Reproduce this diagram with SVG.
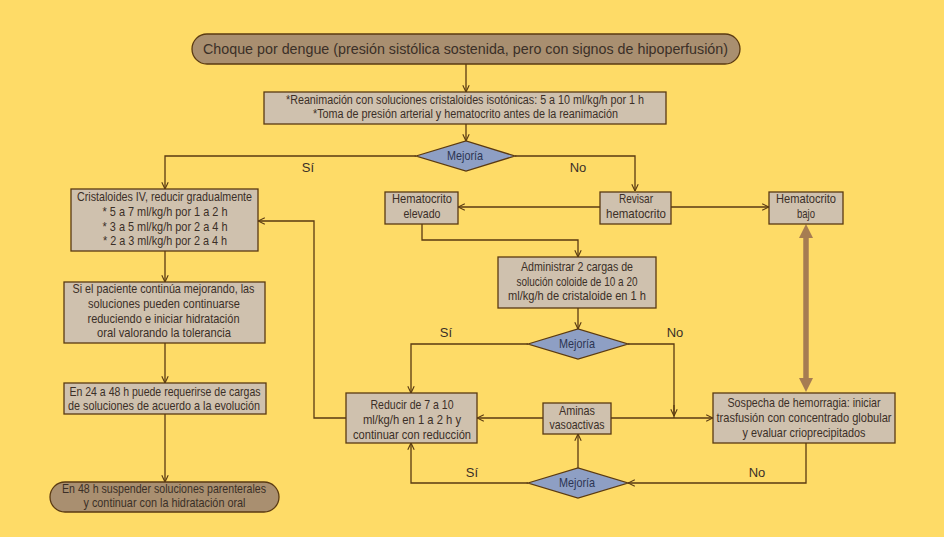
<svg xmlns="http://www.w3.org/2000/svg" width="944" height="537" viewBox="0 0 944 537">
<style>
text{font-family:"Liberation Sans",Arial,sans-serif;fill:#3b2f27;text-anchor:middle;font-size:13px}
.box{fill:#cfc1ae;stroke:#5a3a12;stroke-width:1.3}
.cap{fill:#a98f70;stroke:#5a3a12;stroke-width:1.3}
.dia{fill:#8e9fc4;stroke:#5a3a12;stroke-width:1.3}
.dt{fill:#2c3553}
.sm{font-size:12px}
.c{fill:none;stroke:#5a3a12;stroke-width:1.3}
.ca{fill:none;stroke:#5a3a12;stroke-width:1.3;marker-end:url(#ah)}
</style>
<defs>
<marker id="ah" viewBox="0 0 10 10" refX="9.5" refY="5" markerWidth="8" markerHeight="8" orient="auto" markerUnits="userSpaceOnUse">
<path d="M1,1 L9.5,5 L1,9" fill="none" stroke="#5a3a12" stroke-width="1.4"/>
</marker>
<marker id="th" viewBox="0 0 14 14" refX="2" refY="7" markerWidth="14" markerHeight="14" orient="auto-start-reverse" markerUnits="userSpaceOnUse">
<path d="M0,0 L14,7 L0,14 Z" fill="#a67c52"/>
</marker>
</defs>
<rect width="944" height="537" fill="#fedb67"/>

<g id="connectors">
<path class="ca" d="M466,64 V92"/>
<path class="ca" d="M466,124 V141"/>
<path class="ca" d="M416,156 H165 V189"/>
<path class="ca" d="M515,156 H635 V191"/>
<path class="ca" d="M165,251 V282"/>
<path class="ca" d="M165,343 V383"/>
<path class="ca" d="M165,413 V482"/>
<path class="ca" d="M346,418 H314 V221 H258"/>
<path class="ca" d="M600,207 H458"/>
<path class="ca" d="M671,207 H769"/>
<path class="ca" d="M422,224 V240 H578 V257"/>
<path class="ca" d="M578,308 V329"/>
<path class="ca" d="M528,344 H411 V393"/>
<path class="c" d="M628,344 H674 V418"/>
<path class="ca" d="M674,405 V416"/>
<path class="ca" d="M543,418 H477"/>
<path class="ca" d="M611,418 H713"/>
<path class="ca" d="M806,443 V483 H628"/>
<path class="ca" d="M578,468 V434"/>
<path class="ca" d="M528,483 H411 V443"/>
<path d="M806,236 V380" fill="none" stroke="#a67c52" stroke-width="5.5" marker-start="url(#th)" marker-end="url(#th)"/>
<text x="308" y="172">Sí</text>
<text x="578" y="172">No</text>
<text x="446" y="337">Sí</text>
<text x="675" y="337">No</text>
<text x="472" y="477">Sí</text>
<text x="757" y="477">No</text>
</g>

<g id="n_start">
<rect class="cap" x="192" y="34" width="548" height="30" rx="15"/>
<text x="465.5" y="54" style="font-size:15px" textLength="525" lengthAdjust="spacingAndGlyphs">Choque por dengue (presión sistólica sostenida, pero con signos de hipoperfusión)</text>
</g>
<g id="n_reanimacion">
<rect class="box" x="264" y="92" width="402" height="32"/>
<text class="sm" x="465" y="104" textLength="358" lengthAdjust="spacingAndGlyphs">*Reanimación con soluciones cristaloides isotónicas: 5 a 10 ml/kg/h por 1 h</text>
<text class="sm" x="465.5" y="118" textLength="305" lengthAdjust="spacingAndGlyphs">*Toma de presión arterial y hematocrito antes de la reanimación</text>
</g>
<g id="n_mejoria1">
<polygon class="dia" points="416,156 466,141 515,156 466,171"/>
<text class="dt" x="465" y="160" textLength="36" lengthAdjust="spacingAndGlyphs">Mejoría</text>
</g>
<g id="n_cristaloides">
<rect class="box" x="71" y="189" width="187" height="62"/>
<text x="164.5" y="201" textLength="175" lengthAdjust="spacingAndGlyphs">Cristaloides IV, reducir gradualmente</text>
<text x="165" y="216" textLength="125" lengthAdjust="spacingAndGlyphs">* 5 a 7 ml/kg/h por 1 a 2 h</text>
<text x="165" y="231" textLength="125" lengthAdjust="spacingAndGlyphs">* 3 a 5 ml/kg/h por 2 a 4 h</text>
<text x="165" y="245" textLength="124" lengthAdjust="spacingAndGlyphs">* 2 a 3 ml/kg/h por 2 a 4 h</text>
</g>
<g id="n_continua">
<rect class="box" x="64" y="282" width="201" height="61"/>
<text x="163.5" y="293" textLength="182" lengthAdjust="spacingAndGlyphs">Si el paciente continúa mejorando, las</text>
<text x="164" y="308" textLength="152" lengthAdjust="spacingAndGlyphs">soluciones pueden continuarse</text>
<text x="163.5" y="323" textLength="152" lengthAdjust="spacingAndGlyphs">reduciendo e iniciar hidratación</text>
<text x="164" y="337" textLength="134" lengthAdjust="spacingAndGlyphs">oral valorando la tolerancia</text>
</g>
<g id="n_24a48">
<rect class="box" x="64" y="383" width="202" height="31"/>
<text x="165" y="396" textLength="191" lengthAdjust="spacingAndGlyphs">En 24 a 48 h puede requerirse de cargas</text>
<text x="164" y="410" textLength="192" lengthAdjust="spacingAndGlyphs">de soluciones de acuerdo a la evolución</text>
</g>
<g id="n_fin">
<rect class="cap" x="50" y="482" width="229" height="30" rx="15"/>
<text x="164" y="493" textLength="204" lengthAdjust="spacingAndGlyphs">En 48 h suspender soluciones parenterales</text>
<text x="164.5" y="507" textLength="162" lengthAdjust="spacingAndGlyphs">y continuar con la hidratación oral</text>
</g>
<g id="n_hto_elevado">
<rect class="box" x="385" y="192" width="73" height="32"/>
<text x="422" y="203" textLength="60" lengthAdjust="spacingAndGlyphs">Hematocrito</text>
<text x="422" y="218" textLength="37" lengthAdjust="spacingAndGlyphs">elevado</text>
</g>
<g id="n_revisar">
<rect class="box" x="600" y="192" width="71" height="32"/>
<text x="636" y="203" textLength="34" lengthAdjust="spacingAndGlyphs">Revisar</text>
<text x="636" y="218" textLength="60" lengthAdjust="spacingAndGlyphs">hematocrito</text>
</g>
<g id="n_hto_bajo">
<rect class="box" x="769" y="192" width="74" height="32"/>
<text x="806" y="203" textLength="60" lengthAdjust="spacingAndGlyphs">Hematocrito</text>
<text x="806" y="218" textLength="18" lengthAdjust="spacingAndGlyphs">bajo</text>
</g>
<g id="n_administrar">
<rect class="box" x="498" y="257" width="158" height="51"/>
<text x="577" y="271" textLength="112" lengthAdjust="spacingAndGlyphs">Administrar 2 cargas de</text>
<text x="577" y="286" textLength="121" lengthAdjust="spacingAndGlyphs">solución coloide de 10 a 20</text>
<text x="577" y="300" textLength="138" lengthAdjust="spacingAndGlyphs">ml/kg/h de cristaloide en 1 h</text>
</g>
<g id="n_mejoria2">
<polygon class="dia" points="528,344 578,329 628,344 578,359"/>
<text class="dt" x="577" y="348" textLength="36" lengthAdjust="spacingAndGlyphs">Mejoría</text>
</g>
<g id="n_reducir">
<rect class="box" x="346" y="393" width="131" height="50"/>
<text x="412" y="409" textLength="83" lengthAdjust="spacingAndGlyphs">Reducir de 7 a 10</text>
<text x="412" y="424" textLength="98" lengthAdjust="spacingAndGlyphs">ml/kg/h en 1 a 2 h y</text>
<text x="412" y="439" textLength="118" lengthAdjust="spacingAndGlyphs">continuar con reducción</text>
</g>
<g id="n_aminas">
<rect class="box" x="543" y="403" width="68" height="31"/>
<text x="577" y="415" textLength="36" lengthAdjust="spacingAndGlyphs">Aminas</text>
<text x="577" y="429" textLength="55" lengthAdjust="spacingAndGlyphs">vasoactivas</text>
</g>
<g id="n_sospecha">
<rect class="box" x="713" y="393" width="182" height="50"/>
<text x="804" y="407" textLength="153" lengthAdjust="spacingAndGlyphs">Sospecha de hemorragia: iniciar</text>
<text x="804" y="422" textLength="175" lengthAdjust="spacingAndGlyphs">trasfusión con concentrado globular</text>
<text x="804" y="437" textLength="123" lengthAdjust="spacingAndGlyphs">y evaluar crioprecipitados</text>
</g>
<g id="n_mejoria3">
<polygon class="dia" points="528,483 578,468 628,483 578,498"/>
<text class="dt" x="577" y="487" textLength="36" lengthAdjust="spacingAndGlyphs">Mejoría</text>
</g>
</svg>
